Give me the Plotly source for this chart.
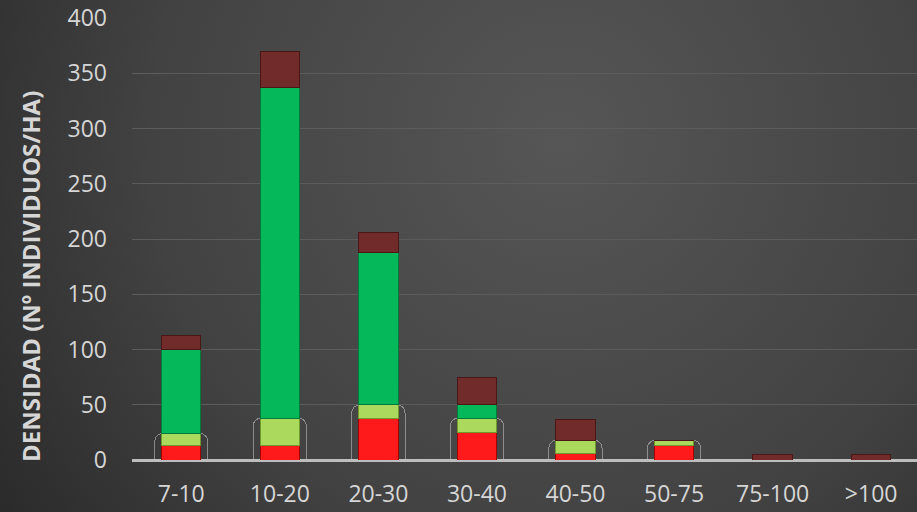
import base64
import plotly.graph_objects as go

# Diameter classes (cm) and stacked densities per group (individuals/ha)
categories = ["7-10", "10-20", "20-30", "30-40", "40-50", "50-75", "75-100", ">100"]
serie_rojo = [13, 13, 38, 25, 6, 13, 0, 0]
serie_verde_claro = [11, 25, 12, 13, 12, 5, 0, 0]
serie_verde = [76, 299, 138, 12, 0, 0, 0, 0]
serie_granate = [13, 33, 18, 25, 19, 0, 5, 5]

y_ticks = [0, 50, 100, 150, 200, 250, 300, 350, 400]

FONT = "Open Sans"
TEXT = "#d6d6d6"

W, H = 917, 512
ML, MR, MT, MB = 132, 0, 18, 52
PW, PH = W - ML - MR, H - MT - MB

# Lower-group envelope (red + light green) drawn as an outlined, rounded bar
envelope = [a + b for a, b in zip(serie_rojo, serie_verde_claro)]

fig = go.Figure()

fig.add_trace(go.Bar(
    x=categories, y=envelope, xaxis="x", yaxis="y", width=0.54,
    marker=dict(color="rgba(0,0,0,0)", cornerradius=8,
                line=dict(color="rgba(200,200,200,0.55)", width=1)),
    hoverinfo="skip", showlegend=False,
))

series = [
    ("Rojo", serie_rojo, "#fe1a1a", "#a30000"),
    ("Verde claro", serie_verde_claro, "#aad95e", "#6f9a2c"),
    ("Verde", serie_verde, "#05b85a", "#037a3b"),
    ("Granate", serie_granate, "#722b2b", "#4a1616"),
]
for name, vals, col, edge in series:
    fig.add_trace(go.Bar(
        x=categories, y=vals, name=name, xaxis="x2", yaxis="y", width=0.40,
        marker=dict(color=col, line=dict(color=edge, width=1)),
        showlegend=False,
    ))

# Dark radial background
svg = (
    f'<svg xmlns="http://www.w3.org/2000/svg" width="{W}" height="{H}">'
    '<defs><radialGradient id="g" gradientUnits="userSpaceOnUse" cx="560" cy="140" r="680">'
    '<stop offset="0" stop-color="#565656"/><stop offset="0.6" stop-color="#424242"/>'
    '<stop offset="1" stop-color="#2a2a2a"/></radialGradient></defs>'
    f'<rect width="{W}" height="{H}" fill="url(#g)"/></svg>'
)
bg_src = "data:image/svg+xml;base64," + base64.b64encode(svg.encode()).decode()

xr = [-0.5, 7.465]
fig.update_layout(
    width=W, height=H,
    margin=dict(l=ML, r=MR, t=MT, b=MB),
    paper_bgcolor="#3a3a3a", plot_bgcolor="rgba(0,0,0,0)",
    barmode="stack", bargap=0.6,
    font=dict(family=FONT, color=TEXT, size=23),
    images=[dict(source=bg_src, xref="paper", yref="paper",
                 x=-ML / PW, y=1 + MT / PH, sizex=W / PW, sizey=H / PH,
                 xanchor="left", yanchor="top", sizing="stretch", layer="below")],
    xaxis=dict(range=xr, showgrid=False, showline=False, ticks="",
               ticklabelstandoff=18,
               tickfont=dict(family=FONT, size=23, color=TEXT)),
    xaxis2=dict(range=xr, overlaying="x", showgrid=False, showticklabels=False,
                showline=False, ticks=""),
    yaxis=dict(range=[0, 400], tickvals=y_ticks, showgrid=True, gridcolor="#5c5c5c",
               gridwidth=1, zeroline=True, zerolinecolor="#bdbdbd", zerolinewidth=3,
               showline=False, ticks="", ticklabelstandoff=24,
               tickfont=dict(family=FONT, size=23, color=TEXT)),
    annotations=[dict(
        text="<b>DENSIDAD (Nº INDIVIDUOS/HA)</b>", textangle=-90,
        xref="paper", yref="paper", x=(30 - ML) / PW, y=(H - MB - 277) / PH,
        xanchor="center", yanchor="middle", showarrow=False,
        font=dict(family=FONT, size=24, color=TEXT),
    )],
)

fig.write_html("out.html")
